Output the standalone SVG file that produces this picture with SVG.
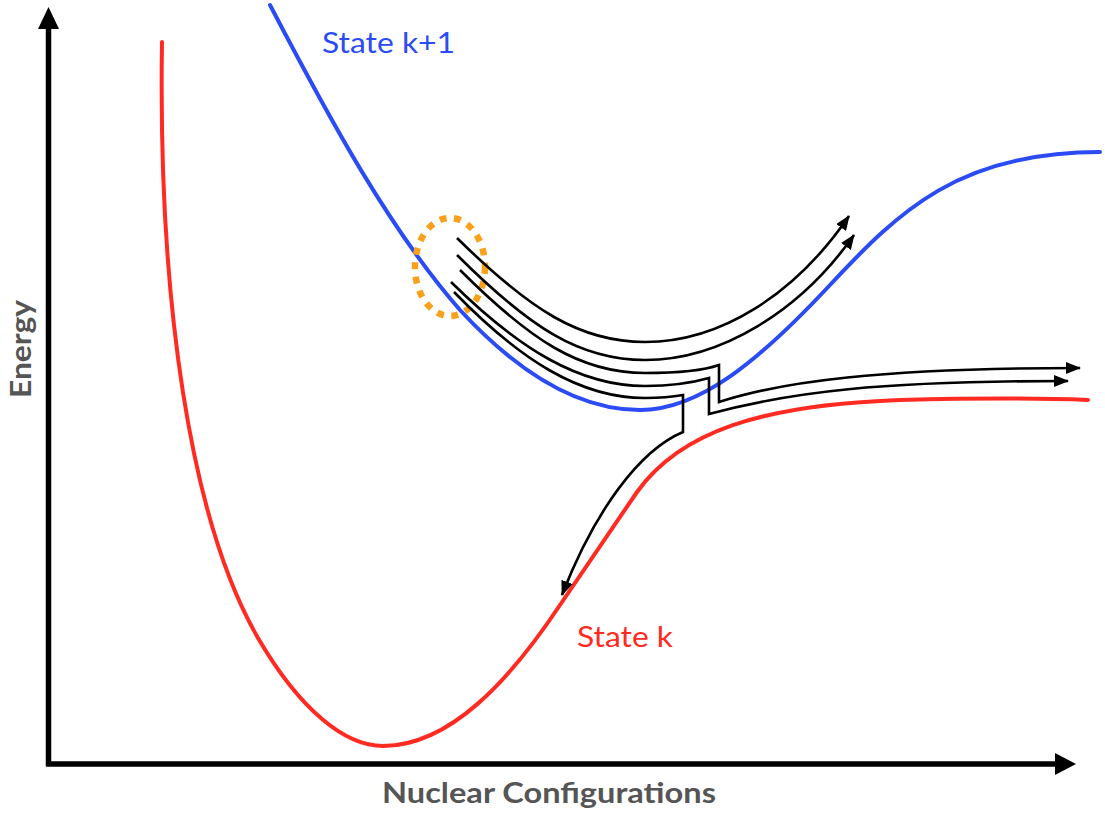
<svg xmlns="http://www.w3.org/2000/svg" width="1105" height="816" viewBox="0 0 1105 816">
<style>
.curve{fill:none;stroke-width:4;stroke-linecap:round}
.path{fill:none;stroke:#000;stroke-width:2.6}
.lbl{font-family:Lato,"Open Sans",sans-serif;font-size:28px}
.ax{font-family:Lato,"Open Sans",sans-serif;font-size:28px;font-weight:bold;fill:#555}
</style>
<defs>
<marker id="ah" markerWidth="15" markerHeight="12" refX="14" refY="6" orient="auto" markerUnits="userSpaceOnUse">
<path d="M0,0 L15,6 L0,12 z" fill="#000"/>
</marker>
</defs>
<rect width="1105" height="816" fill="#fff"/>
<g id="axes">
<line x1="48.5" y1="766" x2="48.5" y2="25" stroke="#000" stroke-width="5.5"/>
<polygon points="48.5,7 38,29 59,29" fill="#000"/>
<line x1="46" y1="764" x2="1058" y2="764" stroke="#000" stroke-width="5.5"/>
<polygon points="1076,764 1055,753 1055,775" fill="#000"/>
<text class="ax" x="382" y="803" textLength="334" lengthAdjust="spacingAndGlyphs">Nuclear Configurations</text>
<text class="ax" transform="translate(31,398) rotate(-90)" textLength="98" lengthAdjust="spacingAndGlyphs">Energy</text>
</g>
<g id="state-k">
<path class="curve" stroke="#FF2B22" d="M162,42 C158,300 190,520 258,638 C300,710 345,746 383,746 C450,746 510,680 560,605 L637,492 C680,432 760,405 900,400 C980,398 1040,398 1088,400"/>
<text class="lbl" x="577" y="647" fill="#FF2B22" textLength="96" lengthAdjust="spacingAndGlyphs">State k</text>
</g>
<g id="state-k1">
<path class="curve" stroke="#2B4BF5" d="M270,5 C330,120 390,230 460,310 C520,375 580,410 640,410 C700,410 760,360 830,285 C900,210 960,152 1100,152"/>
<text class="lbl" x="322" y="53" fill="#2B4BF5" textLength="133" lengthAdjust="spacingAndGlyphs">State k+1</text>
</g>
<g id="highlight">
<ellipse cx="450" cy="267" rx="35" ry="49" fill="none" stroke="#F9A11B" stroke-width="6.5" stroke-dasharray="7 7.5"/>
</g>
<g id="connectors">
<path class="path" marker-end="url(#ah)" d="M457,238 C530,310 580,342 645,342 C720,342 795,295 849,216"/>
<path class="path" marker-end="url(#ah)" d="M457,255 C530,328 580,360 645,360 C720,360 800,312 854,235"/>
<path class="path" marker-end="url(#ah)" d="M460,270 C530,340 580,373 645,373 C680,373 705,370 719,365 L719,402 C780,382 880,368 1080,368"/>
<path class="path" marker-end="url(#ah)" d="M451,282 C520,350 580,386 645,386 C675,386 695,382 709,378 L709,414 C790,392 880,381 1068,381"/>
<path class="path" marker-end="url(#ah)" d="M454,292 C520,360 580,398 645,398 C660,398 672,397 683,395 L683,432 C640,450 595,510 562,595"/>
</g>
</svg>
